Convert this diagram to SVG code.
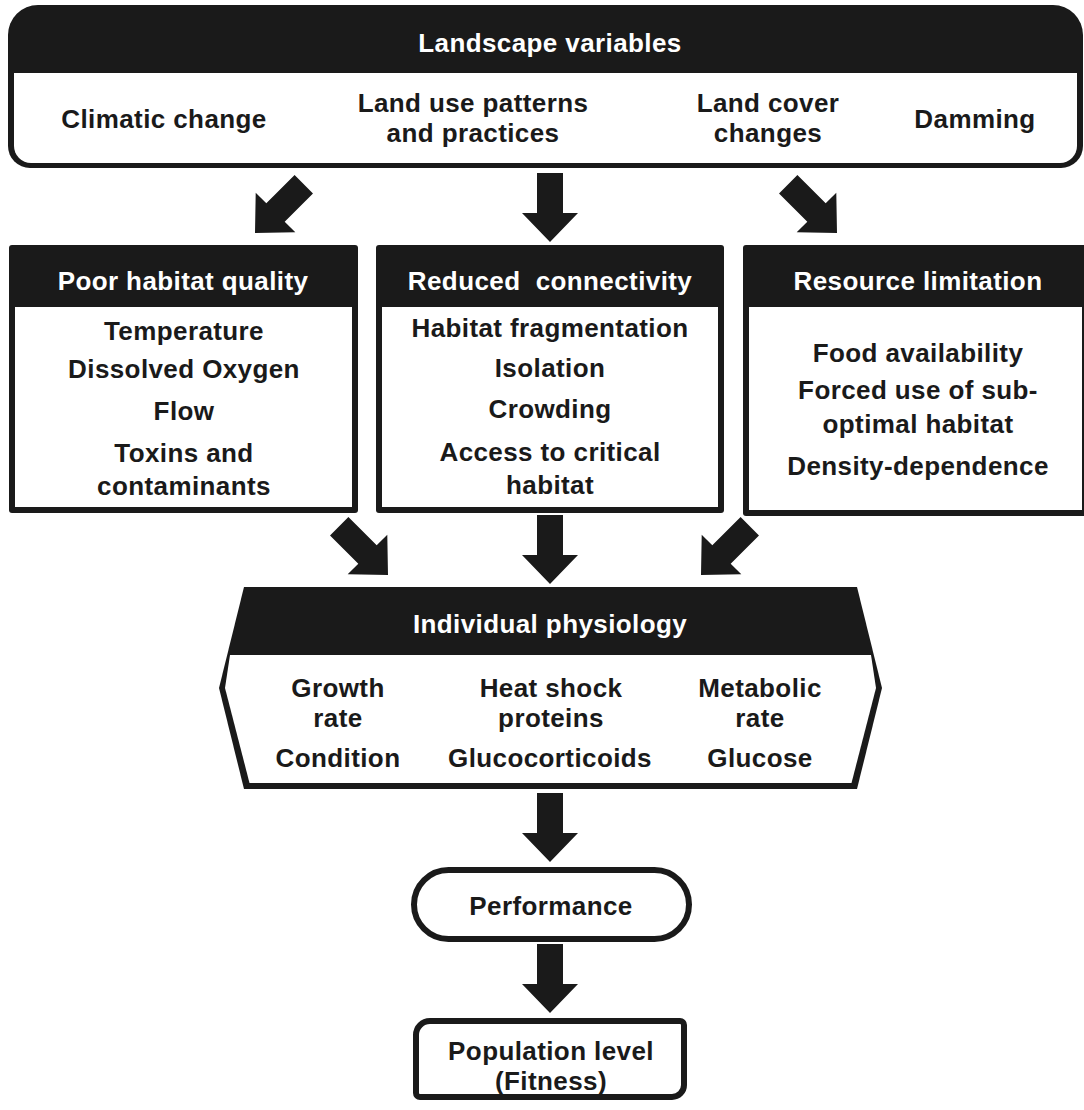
<svg xmlns="http://www.w3.org/2000/svg" xmlns:xlink="http://www.w3.org/1999/xlink" width="1084" height="1110" viewBox="0 0 1084 1110">
<style>
  .blk { fill: #1a1a1a; }
  .wht { fill: #ffffff; }
  .ol { fill: #ffffff; stroke: #1a1a1a; stroke-width: 6; }
  text { font-family: "Liberation Sans", Arial, Helvetica, sans-serif; font-weight: bold; font-size: 26px; letter-spacing: 0.4px; text-anchor: middle; fill: #1a1a1a; }
  text.hd { fill: #ffffff; }
</style>
<defs>
  <path id="arrow" d="M-13,-69 H13 V-29 H28 L0,0 L-28,-29 H-13 Z" fill="#1a1a1a"/>
</defs>
<rect width="1084" height="1110" fill="#ffffff"/>

<g id="node-landscape">
  <path class="blk" d="M8,35 A30,30 0 0 1 38,5 H1053 A30,30 0 0 1 1083,35 V146 A22,22 0 0 1 1061,168 H30 A22,22 0 0 1 8,146 Z"/>
  <path class="wht" d="M14,73 H1077 V146 A17,17 0 0 1 1060,163 H31 A17,17 0 0 1 14,146 Z"/>
  <text class="hd" x="550" y="52">Landscape variables</text>
  <text x="164" y="128">Climatic change</text>
  <text x="473" y="112">Land use patterns</text>
  <text x="473" y="142">and practices</text>
  <text x="768" y="112">Land cover</text>
  <text x="768" y="142">changes</text>
  <text x="975" y="128">Damming</text>
</g>

<g id="node-poor-habitat">
  <rect class="blk" x="9" y="245" width="349" height="268" rx="3"/>
  <rect class="wht" x="15" y="307" width="337" height="200"/>
  <text class="hd" x="183" y="290">Poor habitat quality</text>
  <text x="184" y="340">Temperature</text>
  <text x="184" y="378">Dissolved Oxygen</text>
  <text x="184" y="420">Flow</text>
  <text x="184" y="462">Toxins and</text>
  <text x="184" y="495">contaminants</text>
</g>

<g id="node-reduced-connectivity">
  <rect class="blk" x="376" y="245" width="348" height="268" rx="3"/>
  <rect class="wht" x="382" y="307" width="336" height="200"/>
  <text class="hd" x="550" y="290" xml:space="preserve">Reduced  connectivity</text>
  <text x="550" y="337">Habitat fragmentation</text>
  <text x="550" y="377">Isolation</text>
  <text x="550" y="418">Crowding</text>
  <text x="550" y="461">Access to critical</text>
  <text x="550" y="494">habitat</text>
</g>

<g id="node-resource-limitation">
  <rect class="blk" x="743" y="245" width="346" height="271" rx="3"/>
  <rect class="wht" x="749" y="307" width="333" height="203"/>
  <text class="hd" x="918" y="290">Resource limitation</text>
  <text x="918" y="362">Food availability</text>
  <text x="918" y="399">Forced use of sub-</text>
  <text x="918" y="433">optimal habitat</text>
  <text x="918" y="475">Density-dependence</text>
</g>

<g id="node-individual-physiology">
  <polygon class="blk" points="244,587 857,587 882,688 857,789 244,789 219,688"/>
  <polygon class="wht" points="230,655 871,655 876,688 851.5,783 249.5,783 225,688"/>
  <text class="hd" x="550" y="633">Individual physiology</text>
  <text x="338" y="697">Growth</text>
  <text x="338" y="727">rate</text>
  <text x="338" y="767">Condition</text>
  <text x="551" y="697">Heat shock</text>
  <text x="551" y="727">proteins</text>
  <text x="550" y="767">Glucocorticoids</text>
  <text x="760" y="697">Metabolic</text>
  <text x="760" y="727">rate</text>
  <text x="760" y="767">Glucose</text>
</g>

<g id="node-performance">
  <rect class="ol" x="414" y="870" width="275" height="69" rx="34.5"/>
  <text x="551" y="915">Performance</text>
</g>

<g id="node-population">
  <path class="ol" d="M430,1021 H680 A4,4 0 0 1 684,1025 V1085 A12,12 0 0 1 672,1097 H420 A4,4 0 0 1 416,1093 V1035 A14,14 0 0 1 430,1021 Z"/>
  <text x="551" y="1060">Population level</text>
  <text x="551" y="1090">(Fitness)</text>
</g>

<g id="connectors">
  <use xlink:href="#arrow" transform="translate(255,233) rotate(45)"/>
  <use xlink:href="#arrow" transform="translate(550,242)"/>
  <use xlink:href="#arrow" transform="translate(837,233) rotate(-45)"/>
  <use xlink:href="#arrow" transform="translate(388,575) rotate(-45)"/>
  <use xlink:href="#arrow" transform="translate(550,584)"/>
  <use xlink:href="#arrow" transform="translate(701,575) rotate(45)"/>
  <use xlink:href="#arrow" transform="translate(550,862)"/>
  <use xlink:href="#arrow" transform="translate(550,1013)"/>
</g>
</svg>
